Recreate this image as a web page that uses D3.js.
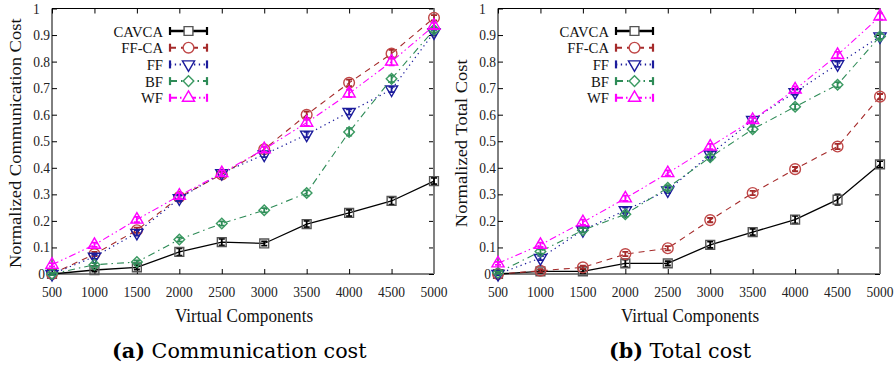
<!DOCTYPE html>
<html>
<head>
<meta charset="utf-8">
<script src="https://cdn.jsdelivr.net/npm/d3@7"></script>
<style>
  html, body { margin: 0; padding: 0; background: #fff; }
  svg { display: block; font-family: "Liberation Serif", "DejaVu Serif", serif; }
</style>
</head>
<body>
<svg id="chart" width="895" height="365"></svg>
<script>
(function () {
  "use strict";

  // ---- data ----
  const components = [500, 1000, 1500, 2000, 2500, 3000, 3500, 4000, 4500, 5000];
  const yTicks = [0, 0.1, 0.2, 0.3, 0.4, 0.5, 0.6, 0.7, 0.8, 0.9, 1];
  const seriesNames = ["CAVCA", "FF-CA", "FF", "BF", "WF"];

  // (a) communication cost
  const commCAVCA = [0, 0.015, 0.025, 0.083, 0.12, 0.115, 0.188, 0.23, 0.275, 0.35];
  const commFFCA = [0, 0.075, 0.165, 0.29, 0.375, 0.47, 0.60, 0.72, 0.83, 0.965];
  const commFF = [0, 0.065, 0.155, 0.285, 0.38, 0.45, 0.525, 0.61, 0.695, 0.91];
  const commBF = [0, 0.035, 0.045, 0.13, 0.19, 0.24, 0.305, 0.535, 0.735, 0.92];
  const commWF = [0.035, 0.11, 0.205, 0.295, 0.38, 0.47, 0.57, 0.68, 0.80, 0.935];

  const commErrCAVCA = [0.004, 0.006, 0.008, 0.014, 0.012, 0.008, 0.012, 0.012, 0.014, 0.012];
  const commErrFFCA = [0.004, 0.008, 0.01, 0.01, 0.01, 0.01, 0.012, 0.012, 0.014, 0.01];
  const commErrFF = [0.004, 0.008, 0.01, 0.01, 0.01, 0.01, 0.01, 0.01, 0.01, 0.01];
  const commErrBF = [0.004, 0.006, 0.006, 0.008, 0.008, 0.008, 0.01, 0.014, 0.012, 0.01];
  const commErrWF = [0.006, 0.008, 0.01, 0.01, 0.01, 0.01, 0.012, 0.014, 0.014, 0.012];

  // (b) total cost
  const totalCAVCA = [0, 0.01, 0.01, 0.04, 0.04, 0.11, 0.158, 0.205, 0.28, 0.413];
  const totalFFCA = [0, 0.012, 0.025, 0.075, 0.097, 0.203, 0.305, 0.395, 0.48, 0.668];
  const totalFF = [0, 0.06, 0.165, 0.24, 0.315, 0.45, 0.58, 0.685, 0.79, 0.895];
  const totalBF = [0.005, 0.085, 0.165, 0.225, 0.325, 0.44, 0.545, 0.63, 0.713, 0.895];
  const totalWF = [0.04, 0.11, 0.195, 0.285, 0.38, 0.48, 0.58, 0.695, 0.825, 0.97];

  const totalErrCAVCA = [0.004, 0.006, 0.008, 0.014, 0.008, 0.012, 0.012, 0.014, 0.02, 0.012];
  const totalErrFFCA = [0.004, 0.006, 0.006, 0.008, 0.008, 0.008, 0.008, 0.008, 0.01, 0.01];
  const totalErrFF = [0.004, 0.008, 0.008, 0.01, 0.01, 0.01, 0.01, 0.01, 0.01, 0.01];
  const totalErrBF = [0.004, 0.008, 0.008, 0.01, 0.01, 0.01, 0.01, 0.01, 0.01, 0.01];
  const totalErrWF = [0.006, 0.008, 0.01, 0.01, 0.01, 0.01, 0.01, 0.012, 0.012, 0.012];

  // ---- styles ----
  const STYLE = [
    { line: "#000000", mark: "#555555", dash: null, width: 1.3, shape: "square" },
    { line: "#a52a2a", mark: "#c04848", dash: "6,5", width: 1.1, shape: "circle" },
    { line: "#1c1c9c", mark: "#1c1c9c", dash: "1.3,3.5", width: 1.2, shape: "tdown" },
    { line: "#2e8b57", mark: "#3b9a62", dash: "7,4,1.5,4", width: 1.1, shape: "diamond" },
    { line: "#ff00ff", mark: "#ff00ff", dash: "7,3,1.5,3,1.5,3", width: 1.1, shape: "tup" },
  ];

  const svg = d3.select("#chart");

  function markerPath(shape) {
    if (shape === "square") return d3.symbol().type(d3.symbolSquare).size(78)();
    if (shape === "circle") return d3.symbol().type(d3.symbolCircle).size(90)();
    if (shape === "diamond") return d3.symbol().type(d3.symbolSquare).size(56)();
    return d3.symbol().type(d3.symbolTriangle).size(64)();
  }
  function markerRotate(shape) {
    if (shape === "diamond") return 45;
    if (shape === "tdown") return 180;
    return 0;
  }

  function drawPanel(cfg) {
    const left = cfg.left, right = cfg.left + 382, top = 8.5, bottom = 274;
    const x = d3.scaleLinear().domain([500, 5000]).range([left, right]);
    const y = d3.scaleLinear().domain([0, 1]).range([bottom, top]);
    const g = svg.append("g");

    // inner ticks on all four sides
    g.append("g").attr("transform", `translate(0,${bottom})`)
      .call(d3.axisBottom(x).tickValues(components).tickSizeInner(-5).tickSizeOuter(0).tickFormat(""))
      .call((a) => a.select(".domain").remove());
    g.append("g").attr("transform", `translate(0,${top})`)
      .call(d3.axisTop(x).tickValues(components).tickSizeInner(-5).tickSizeOuter(0).tickFormat(""))
      .call((a) => a.select(".domain").remove());
    g.append("g").attr("transform", `translate(${left},0)`)
      .call(d3.axisLeft(y).tickValues(yTicks).tickSizeInner(-5).tickSizeOuter(0).tickFormat(""))
      .call((a) => a.select(".domain").remove());
    g.append("g").attr("transform", `translate(${right},0)`)
      .call(d3.axisRight(y).tickValues(yTicks).tickSizeInner(-5).tickSizeOuter(0).tickFormat(""))
      .call((a) => a.select(".domain").remove());
    g.selectAll(".tick line").attr("stroke", "#000").attr("stroke-width", 1);

    // frame
    g.append("path")
      .attr("d", `M${right},${top}H${left}V${bottom}H${right}`)
      .attr("fill", "none").attr("stroke", "#000").attr("stroke-width", 1);
    g.append("line")
      .attr("x1", right).attr("x2", right).attr("y1", top).attr("y2", bottom)
      .attr("stroke", "#808080").attr("stroke-width", 2);

    // tick labels
    const tickFont = 15, squeeze = 0.9;
    components.forEach((c) => {
      g.append("text")
        .attr("transform", `translate(${x(c)},${bottom + 23}) scale(${squeeze},1)`)
        .attr("text-anchor", "middle").attr("font-size", tickFont).attr("fill", "#222")
        .text(c);
    });
    yTicks.forEach((v) => {
      const label = d3.format("~g")(v);
      let anchor = "end", tx = left - 2;
      if (label === "1") { anchor = "start"; tx = left - 19; }
      if (label === "0") { tx = left - 7; }
      g.append("text")
        .attr("transform", `translate(${tx},${y(v) + 5}) scale(${squeeze},1)`)
        .attr("text-anchor", anchor).attr("font-size", tickFont).attr("fill", "#222")
        .text(label);
    });

    // axis titles
    g.append("text")
      .attr("transform", `translate(${left - 31},${(top + bottom) / 2 + 2}) rotate(-90) scale(1,0.85)`)
      .attr("text-anchor", "middle").attr("font-size", 18.5).attr("fill", "#111")
      .text(cfg.yLabel);
    g.append("text")
      .attr("transform", `translate(${(left + right) / 2 + 1},${bottom + 48}) scale(0.95,1)`)
      .attr("text-anchor", "middle").attr("font-size", 18).attr("fill", "#111")
      .text("Virtual Components");

    // caption
    const cap = g.append("text")
      .attr("x", cfg.capX).attr("y", 358)
      .attr("font-family", "'DejaVu Serif', serif").attr("font-size", 20.7).attr("fill", "#000");
    cap.append("tspan").attr("font-weight", "bold").text(cfg.capLetter);
    cap.append("tspan").text(" " + cfg.capText);

    // series
    const line = d3.line().x((d) => x(d[0])).y((d) => y(d[1]));
    cfg.values.forEach((vals, i) => {
      const st = STYLE[i];
      const pts = components.map((c, k) => [c, vals[k], cfg.errors[i][k]]);
      const sg = g.append("g");
      sg.append("path").datum(pts)
        .attr("d", line).attr("fill", "none")
        .attr("stroke", st.line).attr("stroke-width", st.width)
        .attr("stroke-dasharray", st.dash);
      // error bars
      sg.selectAll("path.err").data(pts).enter().append("path")
        .attr("class", "err")
        .attr("d", (d) => {
          const y1 = y(d[1] - d[2]), y2 = y(d[1] + d[2]), cx = x(d[0]);
          return `M${cx},${y1}V${y2}M${cx - 3},${y1}H${cx + 3}M${cx - 3},${y2}H${cx + 3}`;
        })
        .attr("fill", "none").attr("stroke", st.line).attr("stroke-width", 1.8);
      // markers
      sg.selectAll("path.mk").data(pts).enter().append("path")
        .attr("class", "mk")
        .attr("d", markerPath(st.shape))
        .attr("transform", (d) => `translate(${x(d[0])},${y(d[1])}) rotate(${markerRotate(st.shape)})`)
        .attr("fill", "none").attr("stroke", st.mark).attr("stroke-width", 1.4);
    });

    // legend
    const textX = left + 111, lx1 = left + 118, lx2 = left + 155, lxm = (lx1 + lx2) / 2;
    seriesNames.forEach((name, i) => {
      const st = STYLE[i];
      const ly = 31 + i * 16.7;
      g.append("text")
        .attr("transform", `translate(${textX},${ly + 5.5}) scale(0.98,1)`)
        .attr("text-anchor", "end").attr("font-size", 15).attr("fill", "#111")
        .text(name);
      g.append("line")
        .attr("x1", lx1).attr("x2", lx2).attr("y1", ly).attr("y2", ly)
        .attr("stroke", st.line).attr("stroke-width", i === 0 ? 2.6 : 2)
        .attr("stroke-dasharray", st.dash);
      [lx1, lx2].forEach((cx) => {
        g.append("line")
          .attr("x1", cx).attr("x2", cx).attr("y1", ly - 4).attr("y2", ly + 4)
          .attr("stroke", st.line).attr("stroke-width", 2.2);
      });
      g.append("path")
        .attr("d", markerPath(st.shape))
        .attr("transform", `translate(${lxm},${ly}) rotate(${markerRotate(st.shape)})`)
        .attr("fill", "#fff").attr("stroke", st.mark).attr("stroke-width", 1.4);
    });
  }

  drawPanel({
    left: 52,
    yLabel: "Normalized Communication Cost",
    values: [commCAVCA, commFFCA, commFF, commBF, commWF],
    errors: [commErrCAVCA, commErrFFCA, commErrFF, commErrBF, commErrWF],
    capX: 112, capLetter: "(a)", capText: "Communication cost",
  });
  drawPanel({
    left: 498,
    yLabel: "Normalized Total Cost",
    values: [totalCAVCA, totalFFCA, totalFF, totalBF, totalWF],
    errors: [totalErrCAVCA, totalErrFFCA, totalErrFF, totalErrBF, totalErrWF],
    capX: 609, capLetter: "(b)", capText: "Total cost",
  });
})();
</script>
</body>
</html>
